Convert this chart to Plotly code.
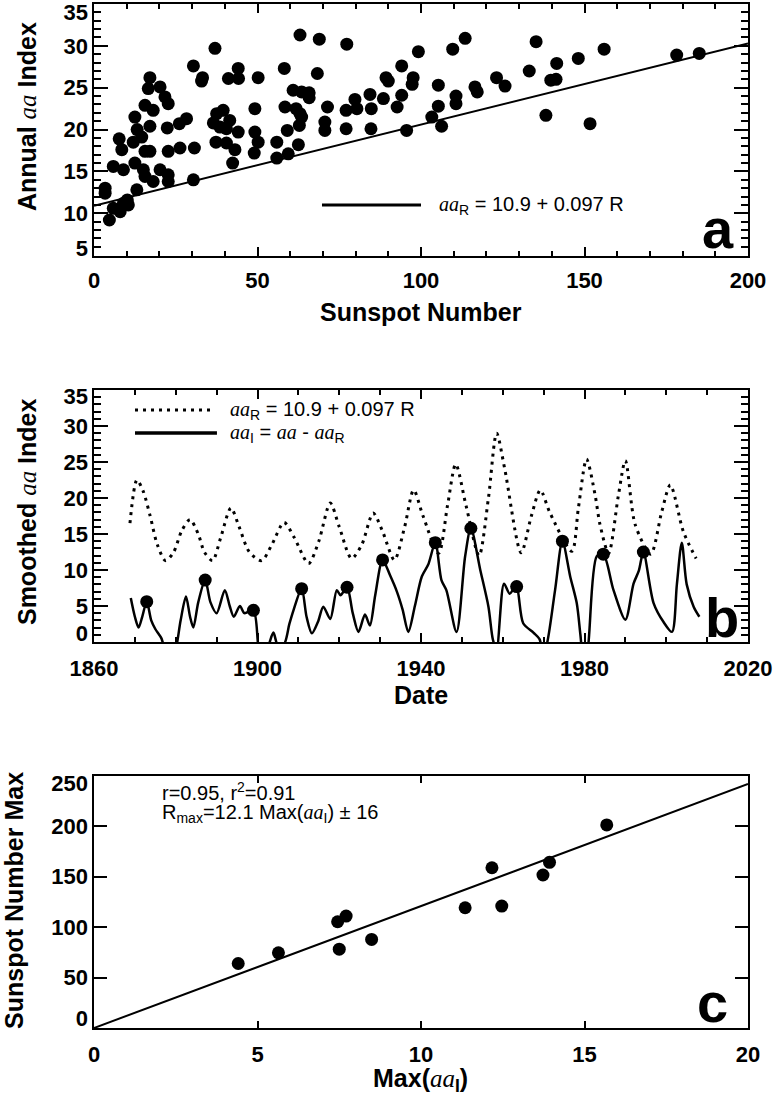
import plotly.graph_objects as go

# ---------------- Panel a: annual aa vs sunspot number ----------------
sunspot_number = [3.4, 3.4, 4.7, 5.9, 8.0, 9.0, 10.5, 10.2, 5.9, 9.0, 7.7, 8.5, 13.1, 12.5, 12.0,
                  12.5, 13.2, 14.6, 15.6, 17.1, 15.1, 15.6, 18.1, 15.6, 18.1, 17.1, 16.6, 17.1, 20.2,
                  21.7, 22.7, 20.2, 22.7, 22.7, 22.7, 22.4, 26.3, 26.1, 28.3, 30.4, 33.2, 32.9, 30.7,
                  30.4, 37.0, 41.1, 44.1, 44.2, 50.2, 37.5, 39.5, 36.5, 38.5, 40.5, 41.5, 44.1, 37.3,
                  40.5, 43.1, 42.4, 49.2, 49.2, 50.2, 49.0, 63.0, 68.9, 77.3, 58.2, 68.3, 60.9, 63.5,
                  65.8, 65.8, 58.4, 61.8, 63.0, 63.5, 62.8, 59.1, 55.9, 62.5, 55.9, 59.4, 71.4, 70.6,
                  70.6, 77.1, 79.8, 80.4, 77.1, 84.4, 84.8, 84.7, 88.5, 89.3, 90.0, 94.1, 94.1, 92.7,
                  95.6, 97.6, 97.3, 99.2, 105.3, 105.3, 103.3, 106.3, 109.7, 110.7, 110.7, 113.5,
                  116.5, 117.2, 123.1, 125.7, 133.1, 135.2, 138.2, 139.7, 141.3, 141.5, 148.1, 151.7,
                  156.0, 178.2, 185.1]
annual_aa = [13.0, 12.4, 9.2, 10.6, 10.2, 11.2, 11.0, 11.6, 15.6, 15.2, 18.9, 17.6, 12.8, 16.0, 18.5,
             21.5, 20.0, 19.1, 17.4, 17.4, 15.2, 14.4, 13.8, 22.9, 22.3, 20.4, 24.9, 26.2, 25.1,
             23.9, 23.1, 15.2, 14.6, 13.8, 17.4, 20.2, 17.8, 20.7, 21.3, 27.6, 26.2, 25.8, 17.8,
             14.0, 29.7, 26.1, 27.3, 26.1, 26.2, 21.9, 22.3, 20.8, 20.3, 20.1, 21.1, 19.7, 18.5,
             18.4, 17.6, 16.0, 22.5, 19.7, 18.5, 17.2, 31.3, 30.8, 30.2, 27.3, 26.7, 24.7, 24.5,
             24.4, 23.8, 22.7, 22.5, 21.9, 21.5, 20.5, 19.9, 18.5, 18.2, 16.6, 17.1, 22.7, 20.9,
             19.9, 22.3, 23.6, 22.5, 20.1, 24.2, 22.5, 20.1, 23.7, 26.2, 25.8, 27.6, 24.1, 22.7,
             19.9, 26.2, 25.4, 29.3, 25.3, 22.8, 21.5, 20.4, 29.6, 24.0, 23.1, 30.9,
             25.1, 24.5, 26.2, 25.2, 27.0, 30.5, 21.7, 25.9, 26.0, 27.9, 28.5, 20.7,
             29.6, 28.9, 29.1]
fit_a_intercept = 10.9
fit_a_slope = 0.097
a_x_range = [0, 200]
a_y_range = [4.9, 35]
a_x_ticks = [0, 50, 100, 150, 200]
a_y_ticks = [5, 10, 15, 20, 25, 30, 35]
a_y_label_pos = [5.8, 10, 15, 20, 25, 30, 34.0]

# ---------------- Panel b: smoothed aa components ----------------
aaR_years = [1868.8, 1870.5, 1872.0, 1873.7, 1875.5, 1877.5, 1879.5, 1881.5, 1883.5, 1885.5, 1887.0,
             1889.0, 1891.0, 1893.5, 1895.5, 1898.0, 1901.0, 1903.5, 1906.5, 1909.0, 1912.5, 1915.0,
             1917.8, 1920.0, 1923.0, 1925.5, 1928.3, 1930.5, 1933.5, 1936.0, 1938.2, 1940.5, 1944.3,
             1946.5, 1948.5, 1951.0, 1954.2, 1956.5, 1958.5, 1960.5, 1964.5, 1967.0, 1969.2, 1971.5,
             1976.9, 1978.5, 1980.5, 1982.6, 1983.8, 1985.9, 1988.3, 1990.0, 1992.4, 1996.2, 1998.9,
             2001.0, 2004.2, 2007.3]
aaR_values = [16.5, 22.5, 21.0, 17.6, 13.5, 11.3, 12.5, 15.5, 17.0, 15.0, 12.5,
              11.3, 14.5, 18.6, 16.0, 12.5, 11.3, 13.5, 16.6, 14.5, 10.9, 14.0,
              19.3, 16.0, 11.6, 13.5, 17.9, 15.5, 11.4, 16.0, 21.1, 17.5, 12.3,
              19.0, 24.7, 19.0, 12.0, 20.0, 29.0, 24.0, 12.4, 17.5, 21.1, 18.0,
              12.6, 18.6, 25.4, 20.4, 16.3, 12.3, 20.4, 25.2, 16.3, 12.2, 18.1,
              21.8, 15.3, 11.6]
aaI_years = [1869.0, 1870.0, 1870.9, 1871.8, 1872.9, 1874.0, 1875.0, 1876.5, 1877.5, 1879.0, 1880.2,
             1881.2, 1882.5, 1883.5, 1884.3, 1885.5, 1887.2, 1888.5, 1890.0, 1892.0, 1893.2, 1894.2,
             1895.7, 1896.8, 1899.0, 1900.3, 1901.5, 1903.0, 1903.9, 1905.0, 1906.5, 1907.8, 1908.8,
             1910.8, 1912.0, 1913.3, 1914.8, 1916.1, 1917.8, 1919.4, 1920.3, 1921.9, 1923.3, 1924.7,
             1926.3, 1927.5, 1928.8, 1930.6, 1932.4, 1934.1, 1935.5, 1936.9, 1938.5, 1940.2, 1941.8,
             1943.5, 1945.0, 1946.2, 1948.7, 1950.8, 1952.2, 1954.5, 1956.5, 1957.6, 1958.5, 1960.3,
             1961.7, 1963.3, 1965.0, 1967.5, 1969.0, 1969.8, 1970.7, 1972.8, 1974.6, 1976.5, 1978.1,
             1979.0, 1979.8, 1980.8, 1983.0, 1984.6, 1987.1, 1990.0, 1992.0, 1993.3, 1994.4, 1996.9,
             1999.3, 2001.4, 2002.6, 2003.8, 2005.0, 2006.7, 2008.1]
aaI_values = [6.1, 3.5, 2.0, 3.5, 5.6, 3.0, 1.8, 0.5, -1.5, -3.0, -0.5,
              3.0, 6.3, 3.5, 2.0, 5.5, 8.6, 5.5, 4.0, 7.2, 5.0, 3.5,
              5.0, 4.0, 4.4, -1.0, -3.0, 0.0, 1.3, -0.5, -0.3, 2.5, 4.4,
              7.4, 3.5, 1.2, 2.8, 4.9, 3.2, 7.2, 6.5, 7.6, 4.0, 1.4,
              3.8, 2.3, 6.5, 11.4, 9.3, 7.0, 4.5, 1.4, 5.0, 9.1, 10.8,
              13.8, 8.6, 7.2, 1.4, 11.9, 15.8, 10.0, 4.9, 0.3, -1.0, 8.1,
              6.7, 7.8, 2.6, 1.3, 0.4, -1.5, -0.5, 7.2, 14.0, 9.1, 5.4,
              1.0, -3.0, -1.0, 11.9, 12.2, 7.2, 3.1, 8.1, 9.9, 12.5, 5.4,
              2.8, 1.4, 8.0, 13.8, 8.0, 4.9, 3.5]
peak_years = [1872.9, 1887.2, 1899.0, 1910.8, 1921.9, 1930.6, 1943.5, 1952.2, 1963.4, 1974.6, 1984.6, 1994.4]
peak_aaI = [5.6, 8.6, 4.4, 7.4, 7.6, 11.4, 13.8, 15.8, 7.7, 14.0, 12.2, 12.5]
b_x_range = [1860, 2020]
b_y_range = [0, 35]
b_x_ticks = [1860, 1900, 1940, 1980, 2020]
b_y_ticks = [0, 5, 10, 15, 20, 25, 30, 35]
b_y_label_pos = [1.2, 5, 10, 15, 20, 25, 30, 34.2]

# ---------------- Panel c: cycle max vs Max(aa_I) ----------------
max_aaI = [5.64, 8.49, 4.41, 7.45, 7.50, 11.35, 13.73, 15.68, 7.71, 13.93, 12.17, 12.47]
max_sunspot = [74.6, 87.9, 64.0, 105.4, 78.2, 119.3, 151.8, 201.5, 111.0, 164.4, 159.0, 121.0]
fit_c_slope = 12.1
c_x_range = [0, 20]
c_y_range = [0, 250]
c_x_ticks = [0, 5, 10, 15, 20]
c_y_ticks = [0, 50, 100, 150, 200, 250]
c_y_label_pos = [9.3, 50, 100, 150, 200, 242.4]

# ---------------- styling ----------------
SANS = "Liberation Sans, Arial, sans-serif"
AA = "<span style=\"font-family:Liberation Serif, serif; font-weight:normal\"><i>aa</i></span>"
tick_font = dict(family=SANS, size=22, color="black", weight="bold")
title_font = dict(family=SANS, size=25, color="black", weight="bold")
note_font = dict(family=SANS, size=20, color="black")

fig = go.Figure()

# Panel a
fig.add_trace(go.Scatter(x=sunspot_number, y=annual_aa, mode="markers",
                         marker=dict(size=13, color="black"), xaxis="x", yaxis="y"))
fig.add_trace(go.Scatter(x=a_x_range, y=[fit_a_intercept + fit_a_slope * v for v in a_x_range],
                         mode="lines", line=dict(color="black", width=2), xaxis="x", yaxis="y"))

# Panel b
fig.add_trace(go.Scatter(x=aaR_years, y=aaR_values, mode="lines",
                         line=dict(color="black", width=3, dash="3px,5px", shape="spline", smoothing=0.8),
                         xaxis="x2", yaxis="y2"))
fig.add_trace(go.Scatter(x=aaI_years, y=aaI_values, mode="lines",
                         line=dict(color="black", width=2.5, shape="spline", smoothing=0.8),
                         xaxis="x2", yaxis="y2"))
fig.add_trace(go.Scatter(x=peak_years, y=peak_aaI, mode="markers",
                         marker=dict(size=13, color="black"), xaxis="x2", yaxis="y2"))

# Panel c
fig.add_trace(go.Scatter(x=max_aaI, y=max_sunspot, mode="markers",
                         marker=dict(size=13, color="black"), xaxis="x3", yaxis="y3"))
fig.add_trace(go.Scatter(x=c_x_range, y=[fit_c_slope * v for v in c_x_range], mode="lines",
                         line=dict(color="black", width=2), xaxis="x3", yaxis="y3"))

# invisible anchors for label-only overlay axes
for xa, ya, xr, yr in [("x", "y4", a_x_range, a_y_range), ("x2", "y5", b_x_range, b_y_range),
                       ("x3", "y6", c_x_range, c_y_range)]:
    fig.add_trace(go.Scatter(x=[xr[0]], y=[yr[0]], mode="markers", marker=dict(opacity=0, size=1),
                             hoverinfo="skip", xaxis=xa, yaxis=ya))


def frame_axis(**kw):
    base = dict(showline=True, linecolor="black", linewidth=2, mirror="ticks", ticks="inside",
                tickcolor="black", tickwidth=2, showgrid=False, zeroline=False, tickfont=tick_font,
                tickmode="array", automargin=False)
    base.update(kw)
    return base


def label_axis(overlay, anchor, rng, pos, labels):
    return dict(overlaying=overlay, anchor=anchor, side="left", range=rng, tickmode="array",
                tickvals=pos, ticktext=[str(v) for v in labels], ticks="", showline=False,
                showgrid=False, zeroline=False, tickfont=tick_font, ticklabelstandoff=5,
                automargin=False)


minor_x = dict(ticks="inside", ticklen=5, tickwidth=1.5, tickcolor="black", dtick=10)
minor_y = dict(ticks="inside", ticklen=7, tickwidth=1.5, tickcolor="black", dtick=1)

layout = dict(
    template="none",
    width=777, height=1096, showlegend=False,
    paper_bgcolor="white", plot_bgcolor="white",
    margin=dict(l=94, r=29, t=4, b=68, autoexpand=False),
    xaxis=frame_axis(domain=[0, 1], anchor="y", range=a_x_range, tickvals=a_x_ticks,
                     ticklen=9, minor=minor_x, ticklabelstandoff=4),
    yaxis=frame_axis(domain=[0.7539, 1.0], anchor="x", range=a_y_range, tickvals=a_y_ticks,
                     ticklen=14, minor=minor_y, showticklabels=False),
    xaxis2=frame_axis(domain=[0, 1], anchor="y2", range=b_x_range, tickvals=b_x_ticks,
                      ticklen=9, minor=minor_x, ticklabelstandoff=6),
    yaxis2=frame_axis(domain=[0.377, 0.623], anchor="x2", range=b_y_range, tickvals=b_y_ticks,
                      ticklen=14, minor=minor_y, showticklabels=False),
    xaxis3=frame_axis(domain=[0, 1], anchor="y3", range=c_x_range, tickvals=c_x_ticks,
                      ticklen=7, ticklabelstandoff=6),
    yaxis3=frame_axis(domain=[0, 0.2461], anchor="x3", range=c_y_range, tickvals=c_y_ticks,
                      ticklen=13, showticklabels=False),
    yaxis4=label_axis("y", "x", a_y_range, a_y_label_pos, a_y_ticks),
    yaxis5=label_axis("y2", "x2", b_y_range, b_y_label_pos, b_y_ticks),
    yaxis6=label_axis("y3", "x3", c_y_range, c_y_label_pos, c_y_ticks),
)
fig.update_layout(**layout)

ann = []


def add_text(text, x, y, font, xanchor="center", yanchor="middle", angle=0):
    ann.append(dict(text=text, x=x, y=y, xref="paper", yref="paper", showarrow=False,
                    xanchor=xanchor, yanchor=yanchor, textangle=angle, font=font))


# axis titles
add_text("Sunspot Number", 0.5, 0.6992, title_font)
add_text(f"Annual {AA} Index", -0.1024, 0.8896, title_font, angle=-90)
add_text("Date", 0.5, 0.3252, title_font)
add_text(f"Smoothed {AA} Index", -0.1024, 0.5039, title_font, angle=-90)
add_text(f"Max({AA}<sub>I</sub>)", 0.4985, -0.0505, title_font)
add_text("Sunspot Number Max", -0.1225, 0.125, title_font, angle=-90)

# legend / annotation texts
eq_R = f"{AA}<sub>R</sub> = {fit_a_intercept} + {fit_a_slope} R"
add_text(eq_R, 0.5245, 0.8037, note_font, xanchor="left")
add_text(eq_R, 0.2049, 0.6035, note_font, xanchor="left")
add_text(f"{AA}<sub>I</sub> = {AA} - {AA}<sub>R</sub>", 0.2049, 0.581, note_font, xanchor="left")
add_text("r=0.95, r<sup>2</sup>=0.91", 0.1009, 0.2305, note_font, xanchor="left")
add_text(f"R<sub>max</sub>={fit_c_slope} Max({AA}<sub>I</sub>) \u00b1 16", 0.1009, 0.2095, note_font,
         xanchor="left")

# panel letters
letter_font = dict(family=SANS, size=56, color="black", weight="bold")
add_text("a", 0.9817, 0.7803, letter_font, xanchor="right")
add_text("b", 0.9893, 0.4008, letter_font, xanchor="right")
add_text("c", 0.9725, 0.0251, letter_font, xanchor="right")

fig.update_layout(annotations=ann)

# legend sample lines
fig.add_shape(type="line", xref="paper", yref="paper", x0=0.3486, x1=0.5, y0=0.8037, y1=0.8037,
              line=dict(color="black", width=3))
fig.add_shape(type="line", xref="paper", yref="paper", x0=0.0627, x1=0.182, y0=0.6035, y1=0.6035,
              line=dict(color="black", width=3, dash="3px,5px"))
fig.add_shape(type="line", xref="paper", yref="paper", x0=0.0627, x1=0.188, y0=0.581, y1=0.581,
              line=dict(color="black", width=3.5))

fig.write_html("out.html", config={"displayModeBar": False},
               post_script="document.body.style.margin='0';")
